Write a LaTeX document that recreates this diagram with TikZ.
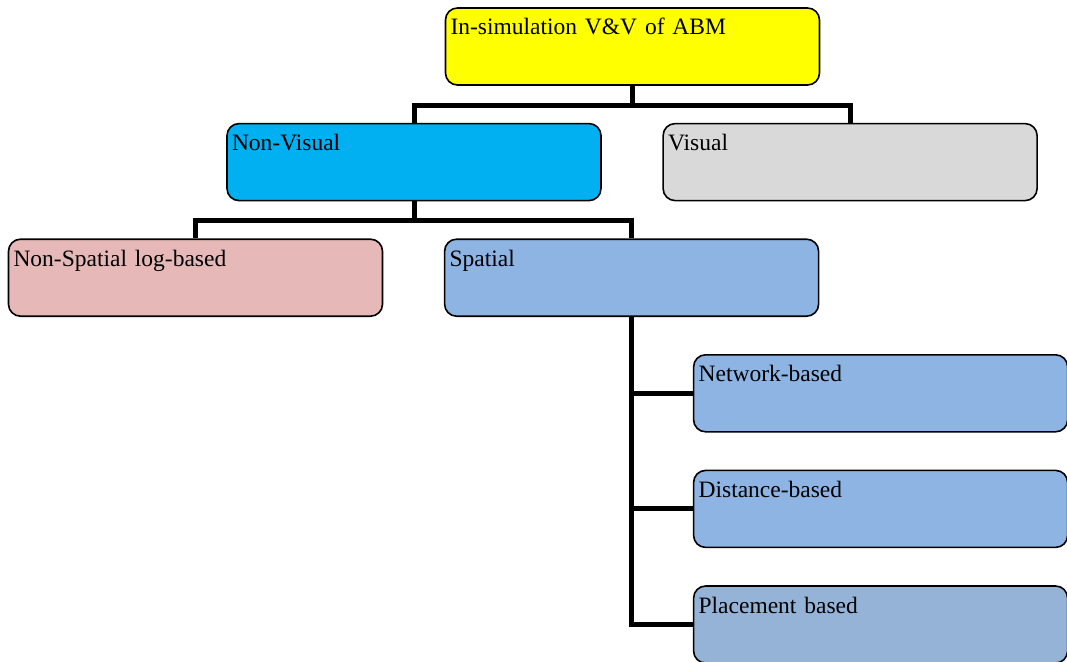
\documentclass[tikz,border=0pt]{standalone}
\usepackage{fontspec}
\setmainfont{Liberation Serif}
\usetikzlibrary{positioning}
\definecolor{topYellow}{HTML}{FFFF00}
\definecolor{nonvisCyan}{HTML}{00B0F0}
\definecolor{visGray}{HTML}{D9D9D9}
\definecolor{logPink}{HTML}{E6B9B8}
\definecolor{spatBlue}{HTML}{8DB4E2}
\definecolor{placeBlue}{HTML}{95B3D7}

\begin{document}
\begin{tikzpicture}[
    x=1pt, y=1pt,
    catbox/.style={
      rectangle, rounded corners=12pt, draw=black, line width=1.6pt,
      text=black, align=left, font=\fontsize{23.5pt}{26pt}\selectfont,
      text width=364pt, inner xsep=5pt, inner ysep=0pt,
      text height=27pt, text depth=50pt
    },
    tree/.style={draw=black, line width=5pt}
  ]
    \useasboundingbox (0,0) rectangle (1067,-661);

    \node[catbox, fill=topYellow] (top) at (632.5,-46.5) {In-simulation V\&V of ABM};
    \node[catbox, fill=nonvisCyan, below=37pt of top, xshift=-218.5pt] (nonvis) {Non-Visual};
    \node[catbox, fill=visGray, right=60.5pt of nonvis] (visual) {Visual};
    \node[catbox, fill=logPink, below=37pt of nonvis, xshift=-218.5pt] (nonspat) {Non-Spatial log-based};
    \node[catbox, fill=spatBlue, right=60.5pt of nonspat] (spatial) {Spatial};
    \node[catbox, fill=spatBlue, below=37pt of spatial, xshift=249pt] (network) {Network-based};
    \node[catbox, fill=spatBlue, below=37pt of network] (distance) {Distance-based};
    \node[catbox, fill=placeBlue, below=37pt of distance] (placement) {Placement based};

    % hierarchy lines
    \draw[tree] (top.south) -- ++(0,-19.5) -| (nonvis.north);
    \draw[tree] (top.south) -- ++(0,-19.5) -| (visual.north);
    \draw[tree] (nonvis.south) -- ++(0,-19.5) -| (nonspat.north);
    \draw[tree] (nonvis.south) -- ++(0,-19.5) -| (spatial.north);
    \draw[tree] (spatial.south) |- (network.west);
    \draw[tree] (spatial.south) |- (distance.west);
    \draw[tree] (spatial.south) |- (placement.west);
\end{tikzpicture}
\end{document}
